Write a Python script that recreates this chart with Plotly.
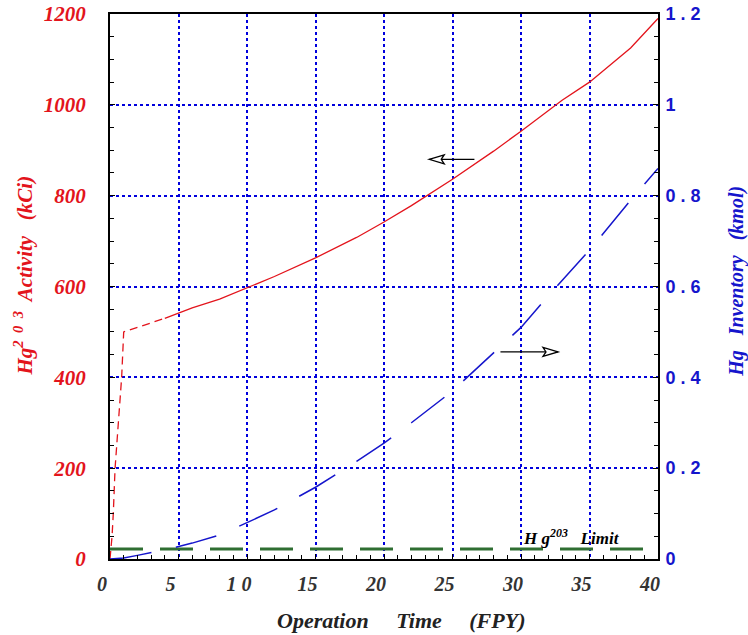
import plotly.graph_objects as go

# ---- data ----
time_ramp = [0, 0.15, 0.24, 0.37, 0.61, 0.85, 1.0, 4.0]
activity_ramp = [0, 50, 100, 200, 300, 400, 500, 530]

time_main = [4, 5, 6, 8, 10, 12, 15, 18, 20, 22, 25, 28, 30, 33, 35, 38, 40]
activity_main = [530, 542, 553, 572, 597, 622, 663, 708, 742, 778, 836, 898, 942, 1010, 1050, 1125, 1190]

time_hg = [0, 1, 2, 4, 6, 8, 10, 12, 15, 18, 20, 22, 25, 28, 30, 32, 35, 38, 40]
hg_inventory = [0, 0.002, 0.008, 0.020, 0.035, 0.053, 0.080, 0.108, 0.158, 0.215, 0.255,
                0.30, 0.37, 0.455, 0.51, 0.58, 0.68, 0.79, 0.86]

limit_x = [0, 40]
limit_activity = [22, 22]

x_label_alias = {"10": "1 0"}
y2_label_alias = {"0.2": "0 . 2", "0.4": "0 . 4", "0.6": "0 . 6", "0.8": "0 . 8", "1.2": "1 . 2"}

# arrows (tail x, tip x, y on activity axis)
arrow_left = (26.6, 23.3, 880)
arrow_right = (28.5, 32.7, 456)

RED = "#e3141c"
BLUE = "#1515cc"
GRID = "#0000dd"
GREEN = "#2f6e32"
SERIF = "Liberation Serif"

fig = go.Figure()
fig.add_trace(go.Scatter(x=time_ramp, y=activity_ramp, mode="lines",
                         line=dict(color=RED, width=1.3, dash="8px,5px"), showlegend=False))
fig.add_trace(go.Scatter(x=time_main, y=activity_main, mode="lines",
                         line=dict(color=RED, width=1.3), showlegend=False))
fig.add_trace(go.Scatter(x=limit_x, y=limit_activity, mode="lines",
                         line=dict(color=GREEN, width=3, dash="33px,17px"), showlegend=False))
fig.add_trace(go.Scatter(x=time_hg, y=hg_inventory, mode="lines", yaxis="y2",
                         line=dict(color=BLUE, width=1.5, dash="42px,25px"), showlegend=False))

# arrows
for tail, tip, yv in (arrow_left, arrow_right):
    d = 1 if tip < tail else -1
    fig.add_shape(type="line", x0=tail, x1=tip, y0=yv, y1=yv, xref="x", yref="y",
                  line=dict(color="black", width=1.3))
    fig.add_shape(type="path", xref="x", yref="y", xsizemode="pixel", ysizemode="pixel",
                  xanchor=tip, yanchor=yv,
                  path=f"M0,0 L{15*d},4.5 L{12*d},0 L{15*d},-4.5 Z",
                  fillcolor="white", line=dict(color="black", width=1.3))

fig.add_annotation(x=33.7, y=48, xref="x", yref="y", showarrow=False,
                   xanchor="center", yanchor="middle",
                   text="<b><i>H g<sup>203</sup>   Limit</i></b>",
                   font=dict(family=SERIF, size=17, color="black"))

# axis titles
fig.add_annotation(x=-0.158, y=0.521, xref="paper", yref="paper", showarrow=False, textangle=-90,
                   xanchor="center", yanchor="middle",
                   text="<b><i>Hg<sup>2  0  3</sup>  Activity   (kCi)</i></b>",
                   font=dict(family=SERIF, size=21, color=RED))
fig.add_annotation(x=1.142, y=0.51, xref="paper", yref="paper", showarrow=False, textangle=-90,
                   xanchor="center", yanchor="middle",
                   text="<b><i>Hg   Inventory   (kmol)</i></b>",
                   font=dict(family=SERIF, size=20, color=BLUE))
fig.add_annotation(x=0.532, y=-0.112, xref="paper", yref="paper", showarrow=False,
                   xanchor="center", yanchor="middle",
                   text="<b><i>Operation     Time     (FPY)</i></b>",
                   font=dict(family=SERIF, size=22, color="#222222"))

fig.update_layout(
    width=748, height=635,
    margin=dict(l=110, r=90, t=14, b=76, autoexpand=False),
    paper_bgcolor="white", plot_bgcolor="white",
    xaxis=dict(range=[0, 40], tickmode="linear", tick0=0, dtick=5, labelalias=x_label_alias,
               showgrid=True, gridcolor=GRID, griddash="dot", gridwidth=2,
               showline=True, linecolor="black", linewidth=2, mirror=True,
               ticks="inside", ticklen=5, tickcolor="black", zeroline=False, automargin=False,
               minor=dict(dtick=1, ticks="inside", ticklen=4, tickcolor="black", showgrid=False),
               tickfont=dict(family=SERIF, size=20, color="#333333", weight="bold", style="italic"),
               ticklabelshift=-8, ticklabelstandoff=6, ticklabeloverflow="allow"),
    yaxis=dict(range=[0, 1200], tickmode="linear", tick0=0, dtick=200,
               showgrid=True, gridcolor=GRID, griddash="dot", gridwidth=2,
               showline=True, linecolor="black", linewidth=2,
               ticks="inside", ticklen=5, tickcolor="black", zeroline=False, automargin=False,
               minor=dict(dtick=50, ticks="inside", ticklen=4, tickcolor="black", showgrid=False),
               tickfont=dict(family=SERIF, size=21, color=RED, weight="bold", style="italic"),
               ticklabelstandoff=18, ticklabeloverflow="allow"),
    yaxis2=dict(range=[0, 1.2], overlaying="y", side="right", tickmode="linear", tick0=0, dtick=0.2,
                labelalias=y2_label_alias,
                showgrid=False, showline=True, linecolor="black", linewidth=2,
                ticks="inside", ticklen=5, tickcolor="black", zeroline=False, automargin=False,
                minor=dict(dtick=0.05, ticks="inside", ticklen=4, tickcolor="black"),
                tickfont=dict(family="Liberation Sans", size=18, color=BLUE, weight="bold"),
                ticklabelstandoff=2, ticklabeloverflow="allow"),
)

fig.write_html("out.html", config={"displayModeBar": False},
               post_script="document.body.style.margin='0';document.body.style.overflow='hidden';")
